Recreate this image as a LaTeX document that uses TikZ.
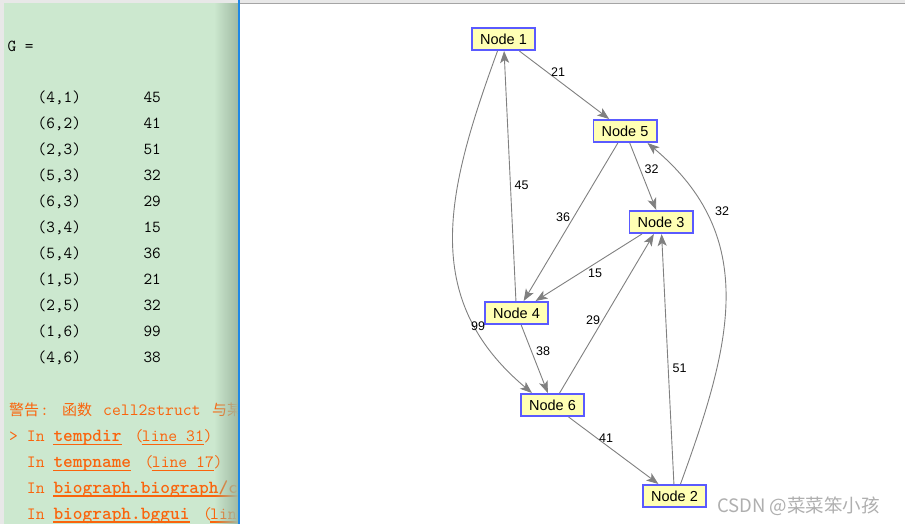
\documentclass[tikz,border=0pt]{standalone}
\usepackage{fontspec}
\setmainfont{Liberation Sans}
\newfontfamily\cjk{Noto Sans CJK SC}
\usetikzlibrary{arrows.meta,calc,fadings}
\definecolor{panelgreen}{RGB}{204,232,207}
\definecolor{panelshade}{RGB}{160,186,163}
\definecolor{warnorange}{RGB}{250,100,12}
\definecolor{nodefill}{RGB}{255,255,180}
\definecolor{nodeline}{RGB}{90,90,255}
\definecolor{edgegray}{RGB}{128,128,128}
\definecolor{divblue}{RGB}{30,136,229}
\definecolor{wmgray}{RGB}{175,175,175}
\definecolor{topgray}{RGB}{232,232,232}
\definecolor{linegray}{RGB}{165,165,165}
\begin{document}
\begin{tikzpicture}[x=1pt,y=-1pt,
  gnode/.style={draw=nodeline, line width=1.6pt, fill=nodefill, minimum width=63.4pt,
    minimum height=22.4pt, inner sep=0pt, font=\fontsize{14.5}{16}\selectfont},
  edge/.style={draw=edgegray, line width=0.9pt, -{Stealth[length=12pt,width=9pt,inset=3pt]}},
  elabel/.style={font=\fontsize{12.5}{14}\selectfont, inner sep=0pt},
  tbl/.style={font=\ttfamily\fontsize{16.8}{18}\selectfont, anchor=base west, inner sep=0pt},
  warn/.style={font=\ttfamily\fontsize{17.2}{19}\selectfont, text=warnorange, anchor=base west, inner sep=0pt},
  warnb/.style={font=\ttfamily\bfseries\fontsize{18.5}{19}\selectfont, text=warnorange, anchor=base west, inner sep=0pt},
  warncjk/.style={font=\cjk\fontsize{15}{17}\selectfont, text=warnorange, anchor=base west, inner sep=0pt},
  uline/.style={draw=warnorange, line width=1.3pt}]
\useasboundingbox (0,0) rectangle (905,524);
% background
\fill[white] (0,0) rectangle (905,524);
\fill[topgray] (0,0) rectangle (905,3);
\fill[topgray] (0,0) rectangle (4,524);
\fill[linegray] (240,3) rectangle (905,4.2);
\fill[panelgreen] (4,3) rectangle (238,524);
% left panel text
\begin{scope}
\clip (4,3) rectangle (238,524);
\node[tbl] (g) at (7.3,51.5) {G =};
\foreach \p/\v [count=\i from 0] in {(4,1)/45,(6,2)/41,(2,3)/51,(5,3)/32,(6,3)/29,(3,4)/15,(5,4)/36,(1,5)/21,(2,5)/32,(1,6)/99,(4,6)/38}{
  \node[tbl] (k\i) at (37.5,102.7+26*\i) {\p};
  \node[tbl] (v\i) at (143.3,102.7+26*\i) {\v};
}
% warning lines
\node[warncjk] (w1a) at (9,415.5) {警告};
\node[warn] (w1b) at (40,415.5) {:};
\node[warncjk] (w1c) at (62,415.5) {函数};
\node[warn] (w1d) at (103,415.5) {cell2struct};
\node[warncjk] (w1e) at (212,415.5) {与某};
\node[warn] (w2a) at (9,441.7) {>};
\node[warn] (w2b) at (26.7,441.7) {In};
\node[warnb] (w2c) at (53.3,441.7) {tempdir};
\node[warn] (w2d) at (134.5,441.7) {(};
\node[warn] (w2e) at (141.7,441.7) {line 31};
\node[warn] (w2f) at (203.5,441.7) {)};
\node[warn] (w3b) at (26.7,467.6) {In};
\node[warnb] (w3c) at (53.3,467.6) {tempname};
\node[warn] (w3d) at (144.5,467.6) {(};
\node[warn] (w3e) at (151.7,467.6) {line 17};
\node[warn] (w3f) at (213.5,467.6) {)};
\node[warn] (w4b) at (26.7,493.5) {In};
\node[warnb] (w4c) at (53.3,493.5) {biograph.biograph/c};
\node[warn] (w5b) at (26.7,519.5) {In};
\node[warnb] (w5c) at (53.3,519.5) {biograph.bggui};
\node[warn] (w5d) at (203,519.5) {(};
\node[warn] (w5e) at (210,519.5) {line};
\foreach \n in {w2c,w2e,w3c,w3e,w4c,w5c,w5e}{
  \draw[uline] ($(\n.base west)+(0,2.6)$) -- ($(\n.base east)+(0,2.6)$);
}
\fill[panelshade, path fading=west] (214,3) rectangle (238,524);
\end{scope}
\fill[divblue] (237.8,0) rectangle (240.3,524);
% graph nodes
\node[gnode] (n1) at (503.5,39) {Node 1};
\node[gnode] (n5) at (625,131) {Node 5};
\node[gnode] (n3) at (661,222) {Node 3};
\node[gnode] (n4) at (516.5,313) {Node 4};
\node[gnode] (n6) at (552.5,405) {Node 6};
\node[gnode] (n2) at (674.5,496) {Node 2};
% edges
\draw[edge] (n1) -- (n5);
\draw[edge] (n5) -- (n3);
\draw[edge] (n5) -- (n4);
\draw[edge] (n4) -- (n1);
\draw[edge] (n3) -- (n4);
\draw[edge] (n6) -- (n3);
\draw[edge] (n2) -- (n3);
\draw[edge] (n4) -- (n6);
\draw[edge] (n6) -- (n2);
\draw[edge] ($(n1.south)+(-6,0)$) to[out=-110,in=140,looseness=1.1] ($(n6.north west)+(12,0)$);
\draw[edge] ($(n2.north)+(6,0)$) to[out=70,in=-40,looseness=1.1] ($(n5.south east)+(-10,0)$);
% edge labels
\node[elabel] (l15a) at (558,72.5) {21};
\node[elabel] (l53) at (651.5,169.5) {32};
\node[elabel] (l41) at (521.5,185.5) {45};
\node[elabel] (l54) at (563,217) {36};
\node[elabel] (l25) at (722,211) {32};
\node[elabel] (l34) at (595,273) {15};
\node[elabel] (l63) at (593,320.5) {29};
\node[elabel] (l16) at (478,326.5) {99};
\node[elabel] (l46) at (543,351) {38};
\node[elabel] (l23) at (679.5,368) {51};
\node[elabel] (l62) at (606,438) {41};
% watermark
\node[anchor=west, text=wmgray, font=\cjk\fontsize{18.5}{20}\selectfont, inner sep=0pt] (wm) at (717,506) {CSDN @菜菜笨小孩};
\end{tikzpicture}
\end{document}
